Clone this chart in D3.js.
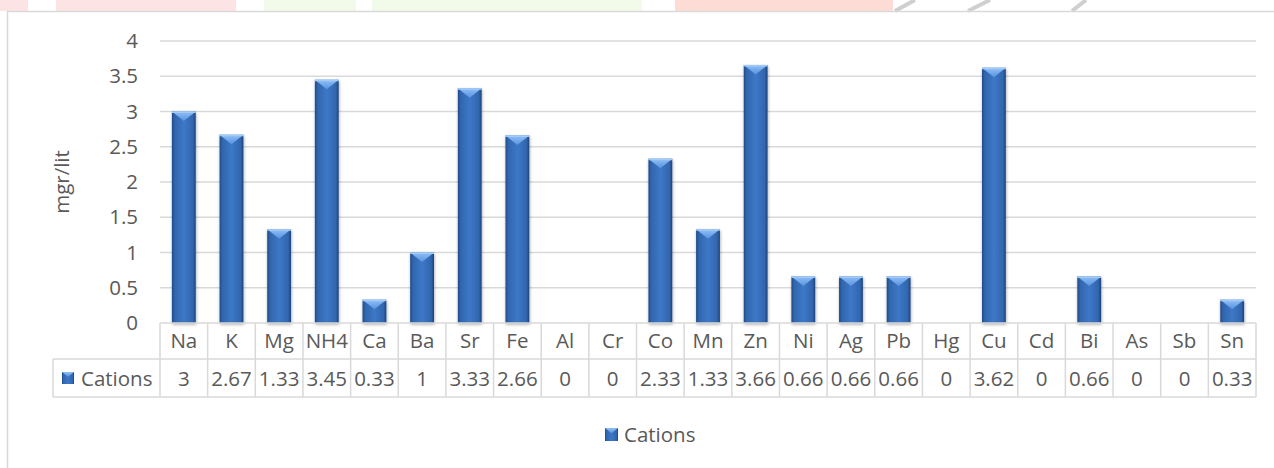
<!DOCTYPE html>
<html>
<head>
<meta charset="utf-8">
<script src="https://cdn.jsdelivr.net/npm/d3@7"></script>
<style>
  html, body { margin: 0; padding: 0; background: #fff; }
  svg { display: block; font-family: "Open Sans", sans-serif; }
  text { fill: #595959; }
</style>
</head>
<body>
<svg id="chart" width="1274" height="468"></svg>
<script>
// data
var categories = ["Na","K","Mg","NH4","Ca","Ba","Sr","Fe","Al","Cr","Co","Mn","Zn","Ni","Ag","Pb","Hg","Cu","Cd","Bi","As","Sb","Sn"];
var values = [3, 2.67, 1.33, 3.45, 0.33, 1, 3.33, 2.66, 0, 0, 2.33, 1.33, 3.66, 0.66, 0.66, 0.66, 0, 3.62, 0, 0.66, 0, 0, 0.33];
var valueLabels = ["3","2.67","1.33","3.45","0.33","1","3.33","2.66","0","0","2.33","1.33","3.66","0.66","0.66","0.66","0","3.62","0","0.66","0","0","0.33"];
var yTicks = [0, 0.5, 1, 1.5, 2, 2.5, 3, 3.5, 4];
var seriesName = "Cations";
var yTitle = "mgr/lit";

var svg = d3.select("#chart");
var W = 1274, H = 468;
var margin = {left: 160, right: 18, top: 41, bottom: 145};
var grid = "#d9d9d9";
var fs = 20.5;

var x = d3.scaleBand().domain(categories).range([margin.left, W - margin.right]).paddingInner(0.5).paddingOuter(0.25);
var band = d3.scaleBand().domain(categories).range([margin.left, W - margin.right]);
var y = d3.scaleLinear().domain([0, 4]).range([H - margin.bottom, margin.top]);
var y0 = y(0);

var defs = svg.append("defs");
var body = defs.append("linearGradient").attr("id", "body").attr("x1", 0).attr("x2", 1).attr("y1", 0).attr("y2", 0);
[[0, "#1f4a87"], [0.12, "#3166ae"], [0.5, "#3d78c7"], [0.88, "#3166ae"], [1, "#1c437b"]].forEach(function(s) {
  body.append("stop").attr("offset", s[0]).attr("stop-color", s[1]);
});
var cap = defs.append("linearGradient").attr("id", "cap").attr("x1", 0).attr("x2", 0).attr("y1", 0).attr("y2", 1);
[[0, "#8fc0f7"], [1, "#5a93de"]].forEach(function(s) {
  cap.append("stop").attr("offset", s[0]).attr("stop-color", s[1]);
});
var f = defs.append("filter").attr("id", "shadow").attr("x", "-30%").attr("y", "-10%").attr("width", "160%").attr("height", "130%");
f.append("feDropShadow").attr("dx", 0.5).attr("dy", 1.5).attr("stdDeviation", 1.5).attr("flood-color", "#000").attr("flood-opacity", 0.35);

// faint watermark strip above the chart frame
var strip = [[0, 28, "#fde4e4"], [56, 94, "#fde4e4"], [136, 100, "#fde4e4"], [264, 92, "#f2fbe9"], [372, 270, "#f2fbe9"], [675, 218, "#fddcd6"]];
svg.selectAll("rect.wm").data(strip).enter().append("rect")
  .attr("x", d => d[0]).attr("y", 0).attr("width", d => d[1]).attr("height", 11).attr("fill", d => d[2]);
svg.selectAll("path.wm").data([[895, 915], [968, 990], [1072, 1086]]).enter().append("path")
  .attr("d", d => "M" + d[0] + ",11 L" + d[1] + ",0").attr("stroke", "#cfcfcf").attr("stroke-width", 4).attr("fill", "none");

// chart frame
svg.append("path").attr("d", "M7.5,468 V11.5 H1274").attr("fill", "none").attr("stroke", grid).attr("stroke-width", 1.5);

// gridlines
svg.append("g").selectAll("line").data(yTicks.slice(1)).enter().append("line")
  .attr("x1", margin.left).attr("x2", W - margin.right)
  .attr("y1", d => y(d)).attr("y2", d => y(d))
  .attr("stroke", grid).attr("stroke-width", 1.5);

// y tick labels
svg.append("g").selectAll("text").data(yTicks).enter().append("text")
  .attr("x", 138).attr("y", d => y(d) + 7)
  .attr("text-anchor", "end").attr("font-size", fs)
  .text(d => d);

svg.append("text")
  .attr("transform", "translate(69," + ((y(0) + y(4)) / 2) + ") rotate(-90)")
  .attr("text-anchor", "middle").attr("font-size", fs)
  .text(yTitle);

// bevelled bar
function drawBar(g, x0, top, w, h) {
  if (h <= 0) return;
  g.append("rect").attr("x", x0).attr("y", top).attr("width", w).attr("height", h)
    .attr("fill", "url(#body)").attr("filter", "url(#shadow)");
  var th = Math.min(h, w * 0.4);
  g.append("path")
    .attr("d", "M" + x0 + "," + top + " L" + (x0 + w) + "," + top + " L" + (x0 + w / 2) + "," + (top + th) + "Z")
    .attr("fill", "url(#cap)");
  g.append("rect").attr("x", x0).attr("y", top).attr("width", w).attr("height", Math.min(1.5, h))
    .attr("fill", "#a4cbf8");
}

var bars = svg.append("g");
categories.forEach(function(c, i) {
  var v = values[i];
  drawBar(bars, x(c), y(v), x.bandwidth(), y0 - y(v));
});

// data table
var rowTop = y0, row1 = y0 + 36, row2 = y0 + 74;
var tbl = svg.append("g").attr("stroke", grid).attr("stroke-width", 1.5);
tbl.append("line").attr("x1", margin.left).attr("x2", W - margin.right).attr("y1", rowTop).attr("y2", rowTop);
tbl.append("line").attr("x1", 53).attr("x2", W - margin.right).attr("y1", row1).attr("y2", row1);
tbl.append("line").attr("x1", 53).attr("x2", W - margin.right).attr("y1", row2).attr("y2", row2);
tbl.append("line").attr("x1", 53).attr("x2", 53).attr("y1", row1).attr("y2", row2);
tbl.selectAll("line.v").data(categories.concat(["_end"])).enter().append("line")
  .attr("x1", d => d === "_end" ? W - margin.right : band(d))
  .attr("x2", d => d === "_end" ? W - margin.right : band(d))
  .attr("y1", rowTop).attr("y2", row2);

svg.append("g").selectAll("text").data(categories).enter().append("text")
  .attr("x", d => band(d) + band.bandwidth() / 2).attr("y", rowTop + 25)
  .attr("text-anchor", "middle").attr("font-size", fs).text(d => d);
svg.append("g").selectAll("text").data(valueLabels).enter().append("text")
  .attr("x", (d, i) => band(categories[i]) + band.bandwidth() / 2).attr("y", row1 + 27)
  .attr("text-anchor", "middle").attr("font-size", fs).text(d => d);

function legendKey(g, x0, y0s, s) {
  g.append("rect").attr("x", x0).attr("y", y0s).attr("width", s).attr("height", s).attr("fill", "url(#body)");
  g.append("path").attr("d", "M" + x0 + "," + y0s + " L" + (x0 + s) + "," + y0s + " L" + (x0 + s / 2) + "," + (y0s + s * 0.4) + "Z").attr("fill", "url(#cap)");
}
var key = svg.append("g");
legendKey(key, 62, row1 + 13, 12);
key.append("text").attr("x", 81).attr("y", row1 + 27).attr("font-size", fs).text(seriesName);

// legend
var leg = svg.append("g");
legendKey(leg, 605, 428, 13);
leg.append("text").attr("x", 624).attr("y", 442).attr("font-size", fs).text(seriesName);
</script>
</body>
</html>
